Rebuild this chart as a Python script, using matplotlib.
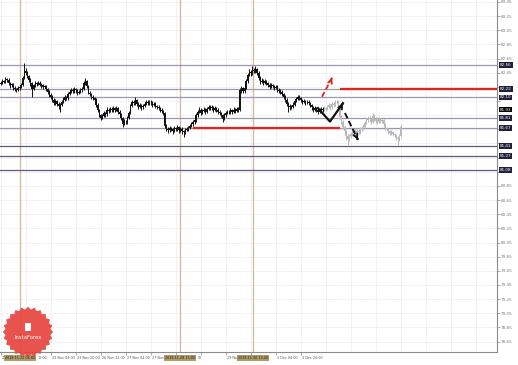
import matplotlib.pyplot as plt
import numpy as np
from matplotlib.patches import Polygon

# hourly candles, history (black) then the later move (grey)
black_close = [
    82.31, 82.33, 82.32, 82.36, 82.35, 82.30, 82.27, 82.29, 82.24, 82.22,
    82.21, 82.23, 82.25, 82.27, 82.38, 82.48, 82.45, 82.40, 82.35, 82.30,
    82.22, 82.27, 82.30, 82.29, 82.31, 82.28, 82.27, 82.25, 82.26, 82.22,
    82.18, 82.14, 82.11, 82.07, 82.02, 82.05, 82.01, 81.98, 82.00, 82.04,
    82.07, 82.10, 82.09, 82.15, 82.18, 82.21, 82.19, 82.22, 82.20, 82.17,
    82.18, 82.20, 82.22, 82.30, 82.34, 82.26, 82.17, 82.15, 82.11, 82.09,
    82.07, 82.00, 81.92, 81.85, 81.81, 81.84, 81.88, 81.86, 81.93, 81.91,
    81.94, 81.92, 81.95, 81.93, 81.95, 81.90, 81.86, 81.81, 81.73, 81.76,
    81.75, 81.81, 81.88, 81.98, 82.04, 82.02, 82.06, 82.01, 81.97, 81.99,
    81.96, 81.98, 82.01, 82.04, 82.02, 82.04, 82.03, 82.00, 82.01, 81.98,
    81.97, 81.95, 81.93, 81.91, 81.88, 81.70, 81.66, 81.64, 81.67, 81.65,
    81.63, 81.67, 81.65, 81.68, 81.64, 81.66, 81.62, 81.61, 81.64, 81.66,
    81.67, 81.70, 81.72, 81.75, 81.78, 81.85, 81.90, 81.93, 81.88, 81.91,
    81.93, 81.90, 81.94, 81.97, 81.95, 81.96, 81.93, 81.95, 81.93, 81.90,
    81.88, 81.85, 81.80, 81.85, 81.88, 81.90, 81.89, 81.92, 81.90, 81.93,
    81.91, 81.94, 81.93, 82.20, 82.23, 82.19, 82.24, 82.33, 82.42, 82.46,
    82.44, 82.49, 82.47, 82.50, 82.45, 82.38, 82.32, 82.34, 82.31, 82.33,
    82.30, 82.28, 82.25, 82.27, 82.26, 82.24, 82.25, 82.21, 82.19, 82.18,
    82.15, 82.11, 82.07, 82.01, 81.96, 81.98, 81.97, 82.00, 82.05, 82.08,
    82.11, 82.09, 82.06, 82.04, 82.05, 82.03, 82.04, 82.02, 81.99, 81.96,
    81.93, 81.95, 81.92, 81.90, 81.92, 81.94, 81.93,
]
black_high = [
    82.34, 82.36, 82.35, 82.39, 82.38, 82.37, 82.32, 82.31, 82.30, 82.26,
    82.24, 82.26, 82.28, 82.30, 82.41, 82.59, 82.51, 82.47, 82.42, 82.37,
    82.32, 82.29, 82.33, 82.32, 82.34, 82.33, 82.30, 82.29, 82.28, 82.28,
    82.24, 82.20, 82.16, 82.13, 82.09, 82.08, 82.07, 82.03, 82.02, 82.06,
    82.10, 82.13, 82.12, 82.18, 82.21, 82.24, 82.23, 82.25, 82.24, 82.22,
    82.21, 82.23, 82.25, 82.33, 82.37, 82.35, 82.28, 82.19, 82.17, 82.13,
    82.11, 82.09, 82.02, 81.94, 81.87, 81.87, 81.91, 81.90, 81.96, 81.95,
    81.97, 81.96, 81.98, 81.97, 81.98, 81.97, 81.92, 81.88, 81.83, 81.79,
    81.78, 81.84, 81.91, 82.01, 82.07, 82.06, 82.10, 82.08, 82.03, 82.02,
    82.01, 82.01, 82.04, 82.07, 82.06, 82.07, 82.06, 82.05, 82.04, 82.03,
    82.00, 81.99, 81.97, 81.95, 81.93, 81.90, 81.72, 81.68, 81.70, 81.69,
    81.67, 81.70, 81.69, 81.71, 81.70, 81.69, 81.68, 81.64, 81.67, 81.69,
    81.70, 81.73, 81.75, 81.78, 81.81, 81.88, 81.93, 81.97, 81.95, 81.94,
    81.96, 81.95, 81.97, 82.00, 81.99, 81.99, 81.98, 81.98, 81.97, 81.95,
    81.92, 81.90, 81.87, 81.88, 81.91, 81.93, 81.92, 81.95, 81.94, 81.96,
    81.95, 81.97, 81.96, 82.23, 82.26, 82.25, 82.27, 82.36, 82.45, 82.50,
    82.49, 82.55, 82.52, 82.54, 82.52, 82.47, 82.40, 82.37, 82.36, 82.36,
    82.35, 82.32, 82.30, 82.30, 82.29, 82.28, 82.28, 82.27, 82.23, 82.22,
    82.20, 82.17, 82.13, 82.09, 82.03, 82.01, 82.00, 82.03, 82.08, 82.11,
    82.14, 82.13, 82.11, 82.08, 82.08, 82.07, 82.07, 82.06, 82.04, 82.01,
    81.98, 81.98, 81.97, 81.94, 81.95, 81.97, 81.96,
]
black_low = [
    82.27, 82.29, 82.30, 82.30, 82.32, 82.28, 82.24, 82.25, 82.21, 82.19,
    82.18, 82.19, 82.21, 82.23, 82.26, 82.36, 82.42, 82.37, 82.32, 82.26,
    82.11, 82.20, 82.25, 82.26, 82.27, 82.26, 82.24, 82.22, 82.23, 82.19,
    82.15, 82.11, 82.08, 82.04, 81.99, 82.00, 81.98, 81.94, 81.90, 81.98,
    82.02, 82.05, 82.06, 82.07, 82.13, 82.16, 82.16, 82.17, 82.17, 82.14,
    82.15, 82.16, 82.18, 82.20, 82.28, 82.24, 82.15, 82.12, 82.08, 82.06,
    82.04, 81.97, 81.89, 81.82, 81.78, 81.79, 81.82, 81.83, 81.84, 81.88,
    81.89, 81.89, 81.90, 81.90, 81.91, 81.87, 81.83, 81.78, 81.69, 81.71,
    81.72, 81.73, 81.79, 81.86, 81.96, 81.99, 82.00, 81.98, 81.94, 81.95,
    81.93, 81.94, 81.96, 81.99, 81.99, 82.00, 82.00, 81.97, 81.98, 81.95,
    81.94, 81.92, 81.90, 81.88, 81.85, 81.67, 81.63, 81.60, 81.61, 81.62,
    81.59, 81.61, 81.62, 81.63, 81.60, 81.61, 81.58, 81.54, 81.59, 81.62,
    81.63, 81.65, 81.68, 81.70, 81.73, 81.76, 81.83, 81.88, 81.85, 81.86,
    81.89, 81.87, 81.88, 81.92, 81.92, 81.93, 81.90, 81.91, 81.90, 81.87,
    81.85, 81.82, 81.76, 81.78, 81.83, 81.86, 81.86, 81.87, 81.87, 81.88,
    81.88, 81.89, 81.90, 81.91, 82.17, 82.16, 82.17, 82.22, 82.31, 82.40,
    82.41, 82.42, 82.44, 82.45, 82.42, 82.35, 82.29, 82.30, 82.28, 82.29,
    82.27, 82.25, 82.22, 82.23, 82.23, 82.21, 82.22, 82.18, 82.16, 82.15,
    82.12, 82.08, 82.04, 81.98, 81.90, 81.93, 81.94, 81.95, 81.98, 82.03,
    82.06, 82.06, 82.03, 82.01, 82.02, 82.00, 82.01, 81.99, 81.96, 81.93,
    81.90, 81.91, 81.89, 81.87, 81.88, 81.90, 81.90,
]
gray_close = [
    81.95, 81.94, 81.97, 81.99, 81.96, 82.01, 82.00, 82.03, 82.04, 81.95,
    81.83, 81.76, 81.69, 81.62, 81.55, 81.52, 81.56, 81.58, 81.60, 81.63,
    81.59, 81.62, 81.61, 81.65, 81.67, 81.69, 81.74, 81.78, 81.81, 81.79,
    81.76, 81.84, 81.80, 81.77, 81.76, 81.79, 81.77, 81.78, 81.72, 81.67,
    81.65, 81.62, 81.60, 81.61, 81.58, 81.57, 81.53, 81.51, 81.56, 81.69,
]
gray_high = [
    81.98, 81.97, 82.00, 82.02, 82.01, 82.04, 82.03, 82.06, 82.07, 82.06,
    81.97, 81.85, 81.78, 81.71, 81.64, 81.58, 81.59, 81.61, 81.63, 81.66,
    81.65, 81.65, 81.65, 81.68, 81.70, 81.72, 81.77, 81.81, 81.84, 81.84,
    81.81, 81.88, 81.86, 81.82, 81.80, 81.82, 81.81, 81.81, 81.80, 81.74,
    81.69, 81.67, 81.64, 81.64, 81.63, 81.60, 81.59, 81.55, 81.59, 81.72,
]
gray_low = [
    81.91, 81.91, 81.92, 81.95, 81.93, 81.94, 81.97, 81.98, 82.01, 81.92,
    81.80, 81.73, 81.66, 81.59, 81.50, 81.43, 81.49, 81.53, 81.55, 81.57,
    81.56, 81.56, 81.58, 81.59, 81.62, 81.64, 81.67, 81.72, 81.75, 81.76,
    81.73, 81.74, 81.77, 81.74, 81.73, 81.74, 81.74, 81.74, 81.69, 81.64,
    81.62, 81.59, 81.57, 81.57, 81.55, 81.54, 81.50, 81.43, 81.48, 81.54,
]
first_open = 82.29

# horizontal levels drawn across the chart
levels = [82.56, 82.22, 82.10, 81.81, 81.67, 81.41, 81.27, 81.08]
level_colors = ["#9a9aae", "#9a9aae", "#9a9aae", "#9a9aae", "#9a9aae",
                "#5c5c78", "#5c5c78", "#5c5c78"]
bid_price = 81.93

# red support / resistance segments: (start bar, end bar, price)
red_segments = [(123, 217, 81.67), (217, 318, 82.22)]

# forecast arrows (bar index, price)
zigzag_x = [203, 210.7, 219]
zigzag_y = [81.95, 81.76, 82.02]
down_x = [220.3, 228.6]
down_y = [81.88, 81.50]
up_red_x = [205.6, 212]
up_red_y = [82.11, 82.38]

# vertical period separators
vlines_at = [12.3, 114.7, 161.4]
vline_labels = ["2018.11.22 08:00", "2018.11.28 15:00", "2018.11.30 13:00"]

# time scale; labels hidden under the separator tags are left out,
# as on the terminal screen
time_ticks = [0, 16, 32, 48, 64, 80, 96, 112, 128, 144, 160, 176, 192]
time_labels = ["21", "12:00", "23 Nov 04:00", "23 Nov 20:00",
               "26 Nov 12:00", "27 Nov 04:00", "27 Nov 20:00", "",
               "00", "29 Nov 20:00", "", "3 Dec 04:00", "3 Dec 20:00"]
time_label_x = [0, 23.0, 32, 48, 64, 80, 96, 112, 125.5, 144, 160, 176, 192]
price_labels = ["83.45", "83.25", "83.05", "82.85", "82.65", "82.45", "82.25",
                "82.05", "81.85", "81.65", "81.45", "81.25", "81.05", "80.85",
                "80.65", "80.45", "80.25", "80.05", "79.85", "79.65", "79.45",
                "79.25", "79.05", "78.85", "78.65"]


def draw_candles(ax, start, first, closes, highs, lows, color):
    closes = np.array(closes)
    opens = np.concatenate([[first], closes[:-1]])
    idx = np.arange(start, start + len(closes))
    ax.vlines(idx, lows, highs, color=color, lw=0.7, zorder=4)
    heights = np.maximum(np.abs(closes - opens), 0.008)
    ax.bar(idx, heights, bottom=np.minimum(opens, closes), width=0.8,
           color=color, lw=0, zorder=4)


fig = plt.figure(figsize=(5.18, 3.65), dpi=100)
ax = fig.add_axes([0, 13 / 365, 497 / 518, 352 / 365])
ax.set_xlim(-0.5, 317.6)
ax.set_ylim(78.503, 83.478)

# grid
ticks_y = [float(s) for s in price_labels]
for y in ticks_y:
    ax.axhline(y, color="#dedede", lw=0.5, ls=(0, (1, 1)), zorder=0)
for x in range(0, 320, 16):
    ax.axvline(x, color="#dedede", lw=0.5, ls=(0, (1, 1)), zorder=0)

for x in vlines_at:
    ax.axvline(x, color="#cdb8a0", lw=0.9, zorder=1)

for y, c in zip(levels, level_colors):
    ax.axhline(y, color=c, lw=0.9, zorder=2)
for x0, x1, y in red_segments:
    ax.hlines(y, x0, x1, color="#e02420", lw=1.6, zorder=3)

draw_candles(ax, 0, first_open, black_close, black_high, black_low, "#111111")
draw_candles(ax, len(black_close), black_close[-1], gray_close, gray_high,
             gray_low, "#b9b9b9")

# forecast arrows
ax.plot(zigzag_x, zigzag_y, color="#111111", lw=1.6, zorder=6)
ax.annotate("", xy=(zigzag_x[-1], zigzag_y[-1]),
            xytext=(zigzag_x[-1] - 1.2, zigzag_y[-1] - 0.05),
            arrowprops=dict(arrowstyle="->", color="#111111", lw=1.4,
                            mutation_scale=7), zorder=6)
ax.plot(down_x, down_y, color="#111111", lw=1.4, ls=(0, (3, 1.5)), zorder=6)
ax.annotate("", xy=(down_x[-1], down_y[-1]),
            xytext=(down_x[-1] - 1.0, down_y[-1] + 0.05),
            arrowprops=dict(arrowstyle="->", color="#111111", lw=1.4,
                            mutation_scale=7), zorder=6)
ax.plot(up_red_x, up_red_y, color="#e02420", lw=1.3, ls=(0, (3, 1.5)),
        zorder=6)
ax.annotate("", xy=(up_red_x[-1], up_red_y[-1]),
            xytext=(up_red_x[-1] - 0.8, up_red_y[-1] - 0.05),
            arrowprops=dict(arrowstyle="->", color="#e02420", lw=1.3,
                            mutation_scale=7), zorder=6)

# axes frame
for side in ["left", "top"]:
    ax.spines[side].set_visible(False)
for side in ["right", "bottom"]:
    ax.spines[side].set_color("#8a8a8a")
    ax.spines[side].set_linewidth(0.8)

# right price scale; ticks under the level tags are not written
ax.yaxis.tick_right()
ax.set_yticks(ticks_y)
shown = [lab if min(abs(float(lab) - v) for v in levels + [bid_price]) > 0.07
         else "" for lab in price_labels]
ax.set_yticklabels(shown, fontsize=3.0, color="#7a7a7a")
ax.tick_params(axis="y", length=2, width=0.5, color="#8a8a8a", pad=1)
ax.set_xticks(time_ticks)
ax.set_xticklabels([])
ax.tick_params(axis="x", length=2, width=0.5, color="#8a8a8a")
for x, lab in zip(time_label_x, time_labels):
    if lab:
        ax.text(x + 0.8, -0.012, lab, transform=ax.get_xaxis_transform(),
                fontsize=2.4, color="#555555", ha="left", va="top",
                clip_on=False)
for x, lab in zip(vlines_at, vline_labels):
    ax.text(x, -0.012, lab, transform=ax.get_xaxis_transform(),
            fontsize=2.4, color="#222222", ha="center", va="top",
            clip_on=False, zorder=10,
            bbox=dict(boxstyle="square,pad=0.3", fc="#b09a66", ec="none"))

# price tags on the right scale
for y in levels + [bid_price]:
    fc = "#000000" if y == bid_price else "#20203c"
    ax.text(1.006, y, f"{y:.2f}", transform=ax.get_yaxis_transform(),
            fontsize=3.0, color="white", ha="left", va="center",
            clip_on=False, zorder=10,
            bbox=dict(boxstyle="square,pad=0.2", fc=fc, ec="none"))

# logo
lax = fig.add_axes([2 / 518, 7 / 365, 52 / 518, 52 / 365])
lax.set_xlim(-1, 1)
lax.set_ylim(-1, 1)
lax.axis("off")
ang = np.linspace(0, 2 * np.pi, 49)[:-1]
rad = np.where(np.arange(48) % 2 == 0, 0.97, 0.87)
lax.add_patch(Polygon(np.column_stack([rad * np.cos(ang), rad * np.sin(ang)]),
                      closed=True, fc="#e8443e", ec="none", alpha=0.92))
lax.add_patch(plt.Rectangle((-0.12, 0.05), 0.24, 0.28, fc="white", ec="none"))
lax.text(0, -0.22, "InstaForex", color="white", fontsize=3.8, ha="center",
         va="center")

fig.savefig("out.png", dpi=100)
